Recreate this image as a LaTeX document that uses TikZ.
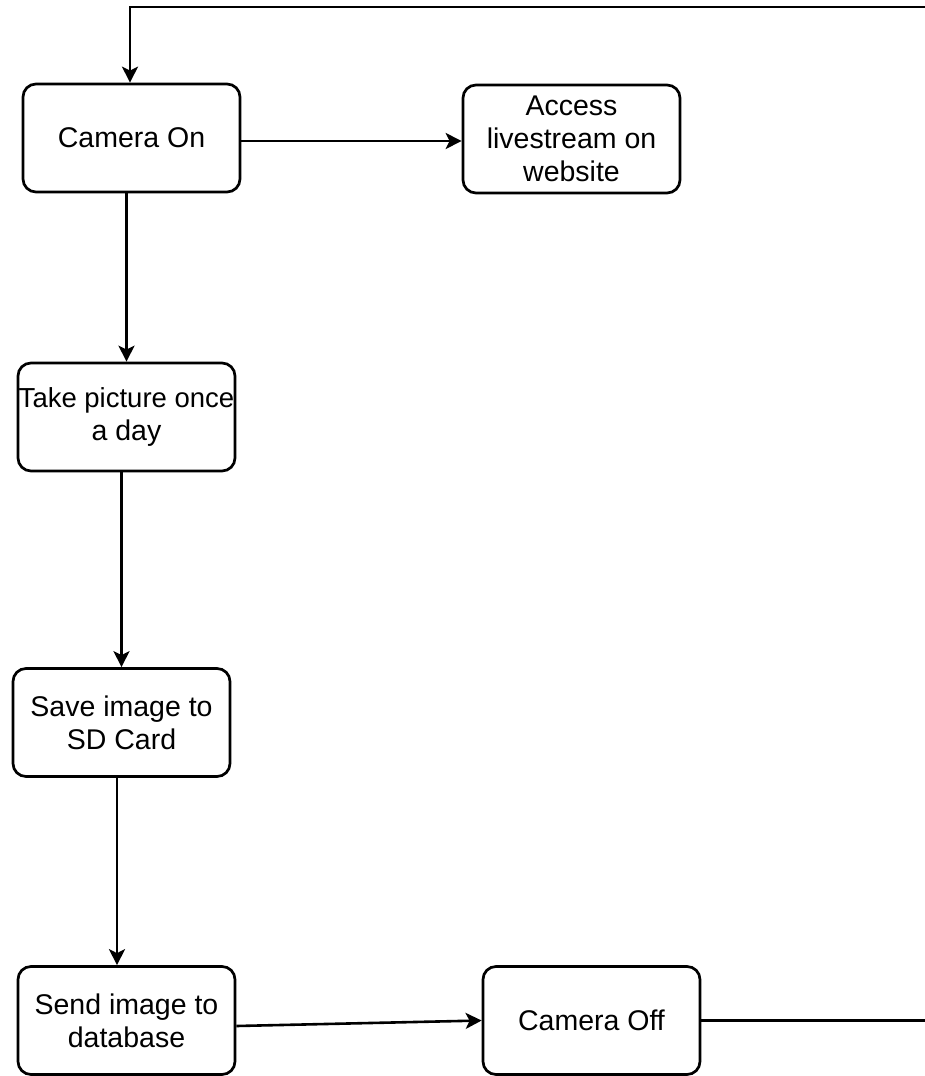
\documentclass[tikz,border=0pt]{standalone}
\usepackage{fontspec}
\setmainfont{Liberation Sans}
\usetikzlibrary{arrows.meta}
\begin{document}
\begin{tikzpicture}[x=1pt,y=-1pt,
  box/.style={draw=black, line width=2.7pt, rounded corners=13pt, fill=white,
    minimum width=217pt, minimum height=108pt, align=center,
    inner sep=0pt, font=\fontsize{28.5}{33}\selectfont},
  conn/.style={draw=black, line width=2.6pt},
  arr/.style={conn, -{Stealth[length=16pt,width=16pt,inset=4pt]}}]
\useasboundingbox (0,0) rectangle (925,1076);
\node[box] (on) at (131.5,138) {Camera On};
\node[box] (live) at (571.5,139) {Access\\livestream on\\website};
\node[box] (take) at (126.5,417) {\makebox[200pt]{\fontsize{27.5}{33}\selectfont Take picture once}\\a day};
\node[box] (save) at (121.5,722.5) {Save image to\\SD Card};
\node[box] (send) at (126.5,1020.5) {Send image to\\database};
\node[box] (off) at (591.5,1020.5) {Camera Off};
\coordinate (loopR) at (925,7);
\coordinate (loopL) at (130,7);
\coordinate (edgeR) at (925,0);
\draw[arr] ([yshift=-3pt]on.east) -- ([yshift=-3pt]on.east -| live.west);
\draw[arr] (on.south -| take.north) -- (take.north);
\draw[arr] (take.south -| save.north) -- (save.north);
\draw[arr] ([xshift=-9.5pt]send.north |- save.south) -- ([xshift=-9.5pt]send.north);
\draw[arr] ([yshift=-5.5pt]send.east) -- (off.west);
\draw[conn] (off.east) -- (off.east -| edgeR);
\draw[arr] (loopR) -- (loopL) -- (loopL |- on.north);
\end{tikzpicture}
\end{document}
